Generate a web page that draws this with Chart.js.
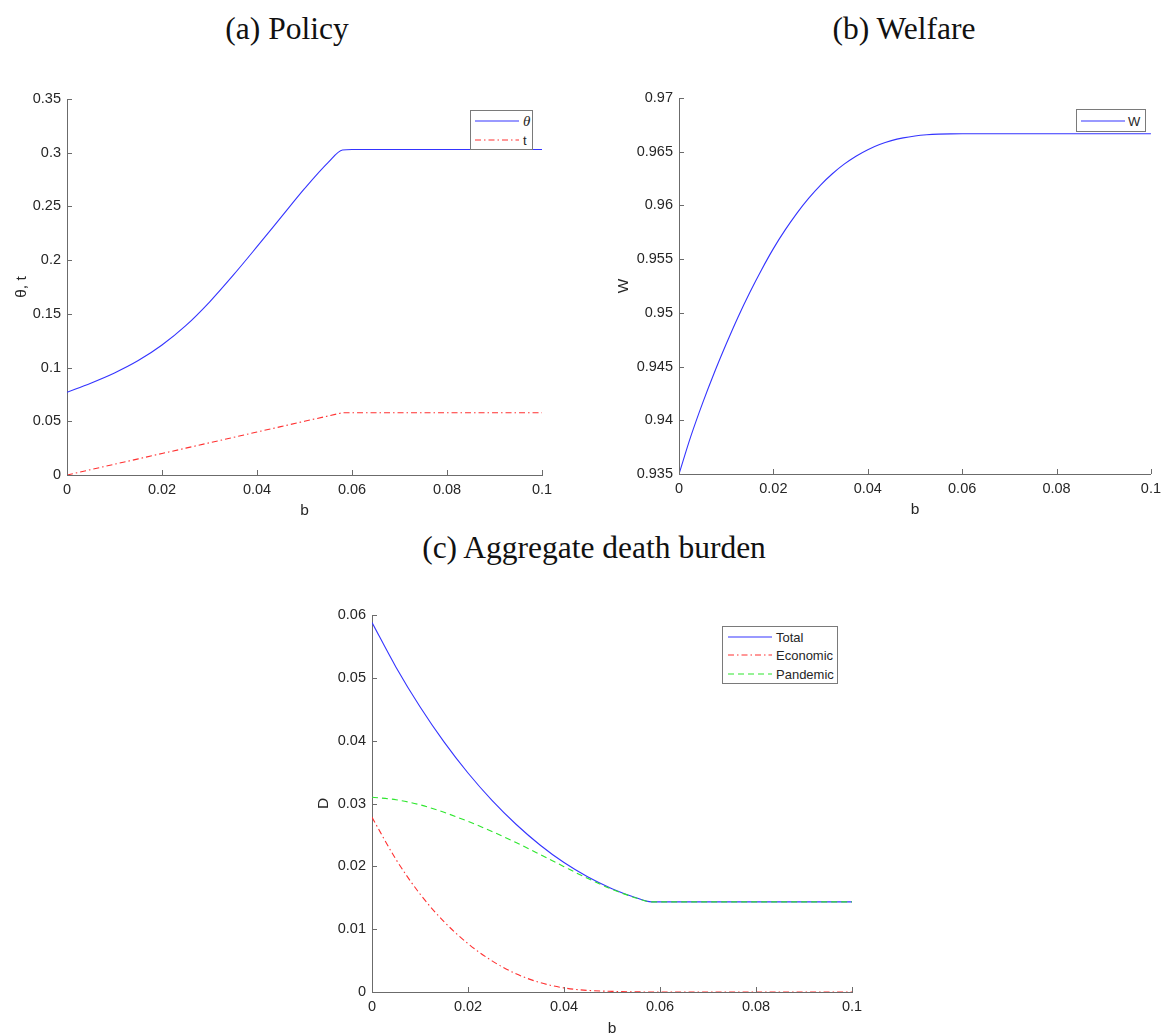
<!DOCTYPE html>
<html>
<head>
<meta charset="utf-8">
<script src="https://cdn.jsdelivr.net/npm/chart.js@4.4.1/dist/chart.umd.min.js"></script>
<style>
  html, body { margin: 0; padding: 0; background: #fff; }
  body { position: relative; width: 1167px; height: 1034px; overflow: hidden; }
  canvas { position: absolute; }
  .panel-title {
    position: absolute; transform: translateX(-50%); white-space: nowrap;
    font-family: "Liberation Serif", "DejaVu Serif", serif; font-size: 31.5px;
    line-height: 1; color: #111;
  }
  .legend {
    position: absolute; box-sizing: border-box; background: #fff;
    border: 1px solid #7a7a7a;
    font-family: "Liberation Sans", Arial, Helvetica, sans-serif; font-size: 13px; color: #262626;
  }
  .legend svg { position: absolute; overflow: visible; }
  .legend span { position: absolute; line-height: 1; white-space: nowrap; transform: translateY(-50%); }
  .legend i { font-family: "Liberation Serif", serif; font-size: 15px; }
</style>
</head>
<body>
<div class="panel-title" style="left:287px; top:13px;">(a) Policy</div>
<div class="panel-title" style="left:904px; top:13px;">(b) Welfare</div>
<div class="panel-title" style="left:594px; top:532px;">(c) Aggregate death burden</div>

<canvas id="policy" width="562" height="436" style="left:0px; top:84px;"></canvas>
<canvas id="welfare" width="577" height="436" style="left:590px; top:83px;"></canvas>
<canvas id="death" width="572" height="450" style="left:300px; top:600px;"></canvas>

<script>
// ---- data: b on the horizontal axis, values per series ----
const xTicks = [0, 0.02, 0.04, 0.06, 0.08, 0.1];
const xTickLabels = ['0', '0.02', '0.04', '0.06', '0.08', '0.1'];

// (a) Policy
const policyB = [0, 0.005, 0.01, 0.015, 0.02, 0.025, 0.03, 0.035, 0.04, 0.045, 0.05, 0.055, 0.058, 0.06, 0.07, 0.08, 0.09, 0.1];
const thetaValues = [0.077, 0.0855, 0.095, 0.1065, 0.121, 0.139, 0.161, 0.186, 0.2125, 0.2395, 0.2665, 0.291, 0.3025, 0.303, 0.303, 0.303, 0.303, 0.303];
const taxValues = [0, 0.005, 0.01, 0.015, 0.02, 0.025, 0.03, 0.035, 0.04, 0.045, 0.05, 0.055, 0.058, 0.058, 0.058, 0.058, 0.058, 0.058];
const policyTicks = [0, 0.05, 0.1, 0.15, 0.2, 0.25, 0.3, 0.35];
const policyTickLabels = ['0', '0.05', '0.1', '0.15', '0.2', '0.25', '0.3', '0.35'];

// (b) Welfare
const welfareB = [0, 0.0025, 0.005, 0.0075, 0.01, 0.0125, 0.015, 0.0175, 0.02, 0.0225, 0.025, 0.0275, 0.03, 0.0325, 0.035, 0.0375, 0.04, 0.0425, 0.045, 0.0475, 0.05, 0.0525, 0.055, 0.0575, 0.06, 0.07, 0.08, 0.09, 0.1];
const welfareValues = [0.935, 0.9385, 0.9416, 0.94445, 0.9471, 0.9496, 0.9519, 0.95402, 0.95598, 0.95772, 0.95929, 0.96068, 0.9619, 0.96295, 0.96384, 0.96458, 0.96519, 0.96567, 0.96603, 0.96629, 0.96647, 0.96658, 0.96664, 0.966665, 0.96667, 0.96667, 0.96667, 0.96667, 0.96667];
const welfareTicks = [0.935, 0.94, 0.945, 0.95, 0.955, 0.96, 0.965, 0.97];
const welfareTickLabels = ['0.935', '0.94', '0.945', '0.95', '0.955', '0.96', '0.965', '0.97'];

// (c) Aggregate death burden
const deathB = [0, 0.005, 0.01, 0.015, 0.02, 0.025, 0.03, 0.035, 0.04, 0.045, 0.05, 0.055, 0.0582, 0.06, 0.07, 0.08, 0.09, 0.1];
const totalValues = [0.0588, 0.0517, 0.0454, 0.0398, 0.03485, 0.0305, 0.0267, 0.0234, 0.0206, 0.0183, 0.01645, 0.0150, 0.01434, 0.01434, 0.01434, 0.01434, 0.01434, 0.01434];
const economicValues = [0.0278, 0.0211, 0.0156, 0.0112, 0.0077, 0.00495, 0.0029, 0.0015, 0.00065, 0.00025, 0.0001, 0.00003, 0, 0, 0, 0, 0, 0];
const pandemicValues = [0.0310, 0.0306, 0.0298, 0.0286, 0.02715, 0.02555, 0.0238, 0.0219, 0.01995, 0.01805, 0.01635, 0.01497, 0.01434, 0.01434, 0.01434, 0.01434, 0.01434, 0.01434];
const deathTicks = [0, 0.01, 0.02, 0.03, 0.04, 0.05, 0.06];
const deathTickLabels = ['0', '0.01', '0.02', '0.03', '0.04', '0.05', '0.06'];

const policyNames = ['θ', 't'];
const welfareNames = ['W'];
const deathNames = ['Total', 'Economic', 'Pandemic'];

// ---- styling ----
const SANS = '"Liberation Sans", Arial, Helvetica, sans-serif';
const TEXT = '#262626';
const AXIS = '#6b6b6b';
const BLUE = '#3434ff';
const RED = '#ff3030';
const GREEN = '#2ee62e';
const DASH_DOT = [6, 3, 1.5, 3];
const DASHED = [6, 4];

function pairs(xs, ys) { return xs.map((x, i) => ({ x: x, y: ys[i] })); }

function axis(ticks, labels, title, boxSize, titlePad, horizontal) {
  return {
    type: 'linear',
    min: ticks[0],
    max: ticks[ticks.length - 1],
    grid: { display: false, drawTicks: false },
    border: { display: true, color: AXIS, width: 1 },
    afterBuildTicks: s => { s.ticks = ticks.map(v => ({ value: v })); },
    afterFit: s => { if (horizontal) s.height = boxSize; else s.width = boxSize; },
    ticks: {
      padding: 6, color: TEXT, autoSkip: false, maxRotation: 0,
      font: { family: SANS, size: 14.5 },
      callback: (v, i) => labels[i]
    },
    title: {
      display: true, text: title, color: TEXT,
      font: { family: SANS, size: 15.5 },
      padding: horizontal ? { top: 0, bottom: titlePad } : { top: titlePad, bottom: 0 }
    }
  };
}

// short inward tick marks on both axes
const innerTicks = {
  id: 'innerTicks',
  afterDatasetsDraw(chart) {
    const { ctx, chartArea, scales } = chart;
    ctx.save();
    ctx.strokeStyle = AXIS;
    ctx.lineWidth = 1;
    ctx.beginPath();
    scales.x.ticks.forEach(t => {
      const px = Math.round(scales.x.getPixelForValue(t.value)) + 0.5;
      ctx.moveTo(px, chartArea.bottom);
      ctx.lineTo(px, chartArea.bottom - 5);
    });
    scales.y.ticks.forEach(t => {
      const py = Math.round(scales.y.getPixelForValue(t.value)) + 0.5;
      ctx.moveTo(chartArea.left, py);
      ctx.lineTo(chartArea.left + 5, py);
    });
    ctx.stroke();
    ctx.restore();
  }
};

function line(label, xs, ys, color, dash, order, smooth) {
  return {
    label: label,
    data: pairs(xs, ys),
    borderColor: color,
    backgroundColor: color,
    borderWidth: 1.1,
    borderDash: dash,
    pointRadius: 0,
    fill: false,
    order: order,
    cubicInterpolationMode: smooth ? 'monotone' : 'default',
    tension: 0
  };
}

function makeChart(id, datasets, cfg) {
  return new Chart(document.getElementById(id), {
    type: 'line',
    data: { datasets: datasets },
    options: {
      responsive: false,
      animation: false,
      events: [],
      layout: { padding: cfg.padding },
      plugins: { legend: { display: false }, tooltip: { enabled: false }, title: { display: false } },
      scales: {
        x: axis(xTicks, xTickLabels, 'b', cfg.xBox, cfg.xTitlePad, true),
        y: axis(cfg.yTicks, cfg.yLabels, cfg.yTitle, cfg.yBox, cfg.yTitlePad, false)
      }
    },
    plugins: [innerTicks]
  });
}

makeChart('policy', [
  line(policyNames[0], policyB, thetaValues, BLUE, [], 0, true),
  line(policyNames[1], policyB, taxValues, RED, DASH_DOT, 1, false)
], {
  padding: { left: 0, top: 15, right: 20, bottom: 0 },
  yTicks: policyTicks, yLabels: policyTickLabels, yTitle: 'θ, t',
  yBox: 67, yTitlePad: 12, xBox: 45, xTitlePad: 0
});

makeChart('welfare', [
  line(welfareNames[0], welfareB, welfareValues, BLUE, [], 0, true)
], {
  padding: { left: 0, top: 15, right: 10, bottom: 0 },
  yTicks: welfareTicks, yLabels: welfareTickLabels, yTitle: 'W',
  yBox: 89, yTitlePad: 24, xBox: 45, xTitlePad: 0
});

makeChart('death', [
  line(deathNames[0], deathB, totalValues, BLUE, [], 2, true),
  line(deathNames[1], deathB, economicValues, RED, DASH_DOT, 1, true),
  line(deathNames[2], deathB, pandemicValues, GREEN, DASHED, 0, true)
], {
  padding: { left: 0, top: 15, right: 20, bottom: 0 },
  yTicks: deathTicks, yLabels: deathTickLabels, yTitle: 'D',
  yBox: 72, yTitlePad: 14, xBox: 58, xTitlePad: 12
});

// ---- boxed legends ----
function legend(box, entries) {
  const el = document.createElement('div');
  el.className = 'legend';
  el.style.left = box.left + 'px';
  el.style.top = box.top + 'px';
  el.style.width = box.width + 'px';
  el.style.height = box.height + 'px';
  entries.forEach((e, i) => {
    const cy = box.rows[i];
    const svg = document.createElementNS('http://www.w3.org/2000/svg', 'svg');
    svg.setAttribute('width', box.sampleLen);
    svg.setAttribute('height', 4);
    svg.style.left = box.sampleX + 'px';
    svg.style.top = (cy - 2) + 'px';
    const ln = document.createElementNS('http://www.w3.org/2000/svg', 'line');
    ln.setAttribute('x1', 0); ln.setAttribute('x2', box.sampleLen);
    ln.setAttribute('y1', 2); ln.setAttribute('y2', 2);
    ln.setAttribute('stroke', e.color);
    ln.setAttribute('stroke-width', 1.1);
    if (e.dash.length) ln.setAttribute('stroke-dasharray', e.dash.join(' '));
    svg.appendChild(ln);
    el.appendChild(svg);
    const sp = document.createElement('span');
    sp.style.left = box.textX + 'px';
    sp.style.top = cy + 'px';
    if (e.italic) { const it = document.createElement('i'); it.textContent = e.label; sp.appendChild(it); }
    else sp.textContent = e.label;
    el.appendChild(sp);
  });
  document.body.appendChild(el);
}

legend({ left: 470, top: 110, width: 63, height: 40, rows: [10, 28.5], sampleX: 4, sampleLen: 44, textX: 52 }, [
  { label: policyNames[0], color: BLUE, dash: [], italic: true },
  { label: policyNames[1], color: RED, dash: DASH_DOT }
]);
legend({ left: 1076, top: 109, width: 70, height: 23, rows: [10.5], sampleX: 4, sampleLen: 44, textX: 51 }, [
  { label: welfareNames[0], color: BLUE, dash: [] }
]);
legend({ left: 722, top: 626, width: 116, height: 58, rows: [9.5, 28, 46.5], sampleX: 5, sampleLen: 44, textX: 53 }, [
  { label: deathNames[0], color: BLUE, dash: [] },
  { label: deathNames[1], color: RED, dash: DASH_DOT },
  { label: deathNames[2], color: GREEN, dash: DASHED }
]);
</script>
</body>
</html>
